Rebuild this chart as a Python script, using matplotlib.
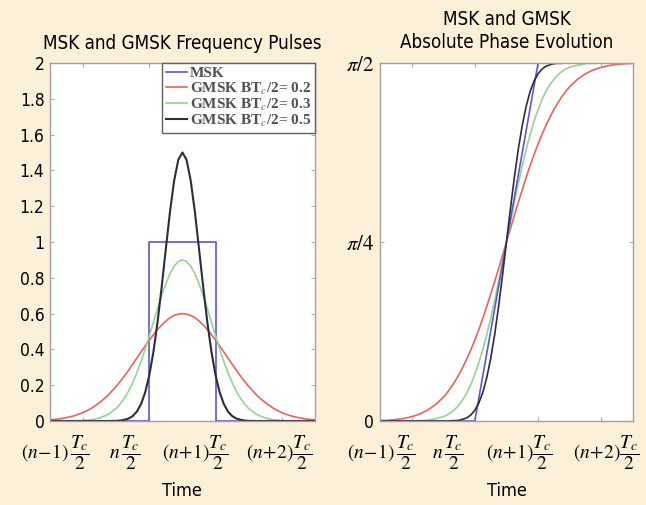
import numpy as np
import matplotlib
matplotlib.use('Agg')
import matplotlib.pyplot as plt
import matplotlib.transforms as mtransforms
from matplotlib.font_manager import FontProperties

plt.rcParams['mathtext.fontset'] = 'stix'
BG = '#fdf0d8'


def sans(size):
    return FontProperties(family='DejaVu Sans', stretch='condensed', size=size)


# time axis in units of Tc/2, MSK pulse sits on [0, 1]; denser sampling near the pulse
time = np.r_[np.arange(-1.5, -0.5, 0.125), np.arange(-0.5, 1.5, 0.0625), np.arange(1.5, 2.5001, 0.125)]
msk_t = [-1.5, 0, 0, 1, 1, 2.5]
msk_f = [0, 0, 1, 1, 0, 0]

gmsk_02 = [0.007, 0.011, 0.019, 0.030, 0.047, 0.071, 0.103, 0.143,
           0.194, 0.222, 0.252, 0.284, 0.318, 0.352, 0.386, 0.420, 0.452, 0.483, 0.512, 0.537,
           0.559, 0.577, 0.590, 0.597, 0.600, 0.597, 0.590, 0.577, 0.559, 0.537, 0.512, 0.483,
           0.452, 0.420, 0.386, 0.352, 0.318, 0.284, 0.252, 0.222, 0.194,
           0.143, 0.103, 0.071, 0.047, 0.030, 0.019, 0.011, 0.007]
gmsk_03 = [0.000, 0.000, 0.000, 0.001, 0.003, 0.007, 0.017, 0.036,
           0.070, 0.096, 0.128, 0.167, 0.215, 0.270, 0.333, 0.402, 0.476, 0.553, 0.629, 0.702,
           0.768, 0.823, 0.865, 0.891, 0.900, 0.891, 0.865, 0.823, 0.768, 0.702, 0.629, 0.553,
           0.476, 0.402, 0.333, 0.270, 0.215, 0.167, 0.128, 0.096, 0.070,
           0.036, 0.017, 0.007, 0.003, 0.001, 0.000, 0.000, 0.000]
gmsk_05 = [0.000, 0.000, 0.000, 0.000, 0.000, 0.000, 0.000, 0.000,
           0.001, 0.003, 0.007, 0.014, 0.028, 0.053, 0.095, 0.160, 0.256, 0.388, 0.555, 0.752,
           0.964, 1.170, 1.343, 1.459, 1.500, 1.459, 1.343, 1.170, 0.964, 0.752, 0.555, 0.388,
           0.256, 0.160, 0.095, 0.053, 0.028, 0.014, 0.007, 0.003, 0.001,
           0.000, 0.000, 0.000, 0.000, 0.000, 0.000, 0.000, 0.000]

# absolute phase, as a fraction of pi/2
phase_msk = [0, 0, 0, 0, 0, 0, 0, 0,
             0, 0, 0, 0, 0, 0, 0, 0, 0, 0.0625, 0.125, 0.1875, 0.25, 0.3125, 0.375, 0.4375,
             0.5, 0.5625, 0.625, 0.6875, 0.75, 0.8125, 0.875, 0.9375, 1, 1, 1, 1, 1, 1, 1, 1, 1,
             1, 1, 1, 1, 1, 1, 1, 1]
phase_02 = [0.001, 0.002, 0.004, 0.007, 0.012, 0.019, 0.030, 0.045,
            0.066, 0.079, 0.094, 0.111, 0.130, 0.151, 0.174, 0.199, 0.226, 0.255, 0.286, 0.319,
            0.354, 0.389, 0.425, 0.463, 0.500, 0.537, 0.575, 0.611, 0.646, 0.681, 0.714, 0.745,
            0.774, 0.801, 0.826, 0.849, 0.870, 0.889, 0.906, 0.921, 0.934,
            0.955, 0.970, 0.981, 0.988, 0.993, 0.996, 0.998, 0.999]
phase_03 = [0.000, 0.000, 0.000, 0.000, 0.000, 0.001, 0.002, 0.006,
            0.012, 0.017, 0.024, 0.033, 0.045, 0.060, 0.079, 0.102, 0.130, 0.162, 0.199, 0.240,
            0.286, 0.336, 0.389, 0.444, 0.500, 0.556, 0.611, 0.664, 0.714, 0.760, 0.801, 0.838,
            0.870, 0.898, 0.921, 0.940, 0.955, 0.967, 0.976, 0.983, 0.988,
            0.994, 0.998, 0.999, 1.000, 1.000, 1.000, 1.000, 1.000]
phase_05 = [0.000, 0.000, 0.000, 0.000, 0.000, 0.000, 0.000, 0.000,
            0.000, 0.000, 0.001, 0.001, 0.002, 0.005, 0.009, 0.017, 0.030, 0.050, 0.079, 0.120,
            0.174, 0.240, 0.319, 0.407, 0.500, 0.593, 0.681, 0.760, 0.826, 0.880, 0.921, 0.950,
            0.970, 0.983, 0.991, 0.995, 0.998, 0.999, 0.999, 1.000, 1.000,
            1.000, 1.000, 1.000, 1.000, 1.000, 1.000, 1.000, 1.000]

legend_labels = ['MSK', r'GMSK BT$_c$/2= 0.2', r'GMSK BT$_c$/2= 0.3', r'GMSK BT$_c$/2= 0.5']
time_labels = [r'$(n\!-\!1)\,\dfrac{T_c}{2}$', r'$n\,\dfrac{T_c}{2}$',
               r'$(n\!+\!1)\dfrac{T_c}{2}$', r'$(n\!+\!2)\dfrac{T_c}{2}$']
colors = ['#5a5ac8', '#e8645c', '#96d296', '#2c2c3c']

fig = plt.figure(figsize=(6.46, 5.05), dpi=100, facecolor=BG)
ax1 = fig.add_axes([0.0774, 0.1663, 0.410, 0.709])
ax2 = fig.add_axes([0.588, 0.1663, 0.392, 0.709])


def style_axes(ax):
    ax.set_facecolor('white')
    for s in ax.spines.values():
        s.set_color('#a0a0a0')
        s.set_linewidth(1.0)
    ax.tick_params(direction='in', length=3, color='#b0b0b0', labelsize=12.5,
                   top=True, right=True, pad=4)
    ax.set_xlim(-1.5, 2.5)
    ax.set_xticks([-1, 0, 1, 2])
    ax.set_xticklabels([])


def time_axis(ax, label_x):
    trans = mtransforms.blended_transform_factory(ax.transData, ax.transAxes)
    for lx, lab in zip(label_x, time_labels):
        ax.text(lx, -0.088, lab, transform=trans, ha='center', va='center', fontsize=14)
    ax.text(0.5, -0.195, 'Time', transform=ax.transAxes, ha='center', va='center',
            fontproperties=sans(13))


# left: frequency pulses
style_axes(ax1)
ax1.plot(msk_t, msk_f, color=colors[0], lw=1.2, label=legend_labels[0])
ax1.plot(time, gmsk_02, color=colors[1], lw=1.2, label=legend_labels[1])
ax1.plot(time, gmsk_03, color=colors[2], lw=1.2, label=legend_labels[2])
ax1.plot(time, gmsk_05, color=colors[3], lw=1.5, label=legend_labels[3])
ax1.set_ylim(0, 2)
yt = [0, 0.2, 0.4, 0.6, 0.8, 1, 1.2, 1.4, 1.6, 1.8, 2]
ax1.set_yticks(yt)
ax1.set_yticklabels(['0', '0.2', '0.4', '0.6', '0.8', '1', '1.2', '1.4', '1.6', '1.8', '2'],
                    fontproperties=sans(12.5))
ax1.set_title('MSK and GMSK Frequency Pulses', fontproperties=sans(13.5), pad=10)
leg = ax1.legend(loc='upper right', borderaxespad=0, fancybox=False, frameon=True,
                 edgecolor='#606060', framealpha=1, handlelength=1.4, handletextpad=0.15,
                 labelspacing=0.0, borderpad=0.25,
                 prop={'family': 'Liberation Serif', 'weight': 'bold', 'size': 11})
for t in leg.get_texts():
    t.set_color('#505050')
time_axis(ax1, [-1.42, -0.37, 0.69, 1.97])

# right: absolute phase
style_axes(ax2)
ax2.plot(time, phase_02, color=colors[1], lw=1.2)
ax2.plot(time, phase_03, color=colors[2], lw=1.2)
ax2.plot(time, phase_msk, color=colors[0], lw=1.2)
ax2.plot(time, phase_05, color=colors[3], lw=1.2)
ax2.set_ylim(0, 1)
ax2.set_yticks([0, 0.5, 1])
ax2.set_yticklabels(['0', r'$\pi/4$', r'$\pi/2$'], fontsize=15)
ax2.get_yticklabels()[0].set_fontproperties(sans(12.5))
ax2.set_title('MSK and GMSK\nAbsolute Phase Evolution', fontproperties=sans(13.5),
              pad=11, linespacing=1.25)
time_axis(ax2, [-1.48, -0.43, 0.70, 2.08])

fig.savefig('out.png', dpi=100, facecolor=BG)
